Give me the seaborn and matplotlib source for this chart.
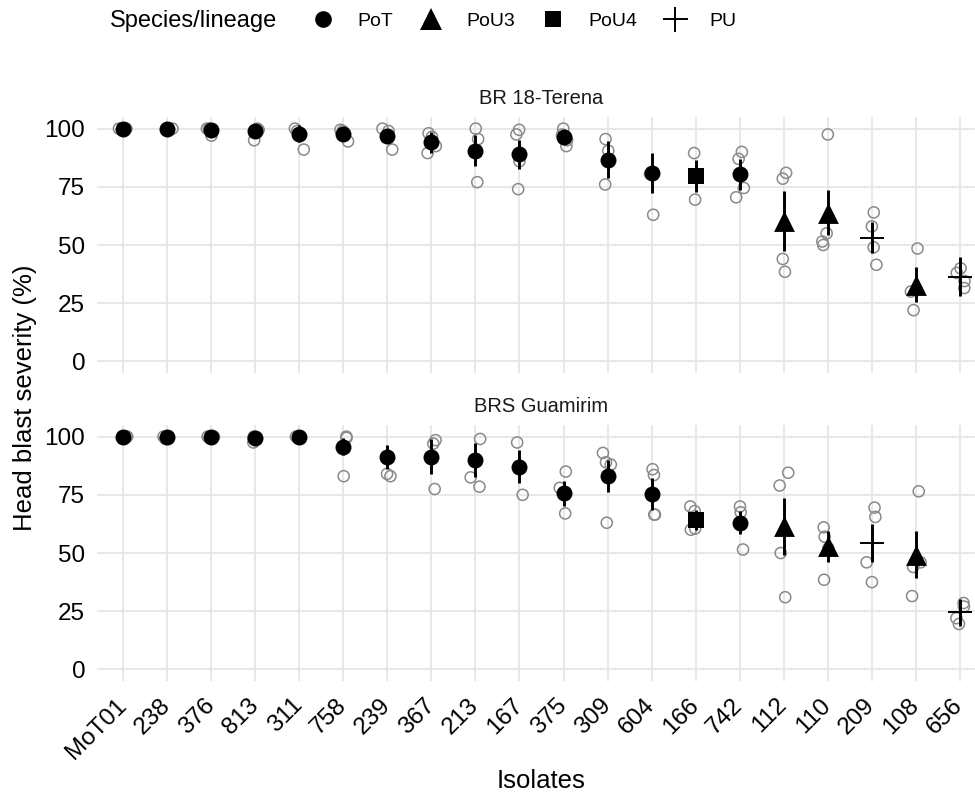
import numpy as np
import pandas as pd
import matplotlib.pyplot as plt
import seaborn as sns
from matplotlib.lines import Line2D

# Isolates in plotting order and their species/lineage
isolates = ["MoT01", "238", "376", "813", "311", "758", "239", "367", "213", "167",
            "375", "309", "604", "166", "742", "112", "110", "209", "108", "656"]
lineage = ["PoT"] * 13 + ["PoU4", "PoT", "PoU3", "PoU3", "PU", "PoU3", "PU"]

# BR 18-Terena: means, error half-widths, replicate values
terena_mean = [100, 100, 99.5, 98.9, 97.9, 97.9, 97.0, 94.1, 90.6, 88.9,
               96.4, 86.7, 81.0, 79.6, 80.3, 60.3, 63.9, 53.1, 32.9, 36.4]
terena_se = [0, 0, 0.8, 1.5, 3.8, 1.3, 2.5, 4.6, 6.8, 6.1,
             1.8, 7.9, 8.7, 6.8, 6.5, 13.0, 9.8, 6.6, 7.5, 8.4]
terena_reps = [[100, 100, 100, 100], [100, 100, 100], [100, 100, 97], [100, 99.5, 95],
               [100, 99, 91], [99.5, 99, 94.5], [100, 99, 91], [98, 96.5, 92.5, 89.5],
               [100, 95.5, 77], [99.5, 97.5, 86, 74], [100, 97.5, 95, 92.5], [95.5, 90.5, 76],
               [81, 80.5, 63], [89.5, 69.5], [90, 87, 74.5, 70.5], [81, 78.5, 44, 38.5],
               [97.5, 55, 51.5, 50], [64, 58, 49, 41.5], [48.5, 30, 22], [40, 38, 34.5, 31.5]]

# BRS Guamirim
guamirim_mean = [100, 100, 100, 99.3, 100, 95.7, 91.4, 91.4, 90.0, 87.1,
                 75.7, 83.1, 75.4, 64.3, 63.1, 61.4, 52.9, 54.3, 49.3, 24.6]
guamirim_se = [0, 0.3, 0, 0.5, 0, 3.5, 5.2, 7.4, 7.4, 7.0,
               5.4, 6.8, 6.8, 4.3, 4.8, 12.2, 6.6, 8.3, 10.2, 5.8]
guamirim_reps = [[100, 100, 100], [100, 99, 100], [100, 100, 100], [100, 99.5, 97.5],
                 [100, 100, 100], [100, 99.5, 83], [84, 83], [98.5, 97, 77.5],
                 [99, 82.5, 78.5], [97.5, 87.5, 75], [85, 78, 67], [93, 89, 88, 63],
                 [86, 83.5, 66.5, 66.5], [70, 68, 60.5, 60], [70, 67.5, 51.5],
                 [84.5, 79, 50, 31], [61, 57, 52, 38.5], [69.5, 65.5, 46, 37.5],
                 [76.5, 46, 44, 31.5], [28.5, 27, 22, 19.5]]

LINEAGES = ["PoT", "PoU3", "PoU4", "PU"]
MARKERS = {"PoT": ("o", 11.5), "PoU3": ("^", 15), "PoU4": ("s", 11.5), "PU": ("+", 17)}

sns.set_theme(style="whitegrid")
plt.rcParams["font.family"] = ["Liberation Sans", "DejaVu Sans"]
plt.rcParams["text.color"] = "black"
np.random.seed(7)  # jitter of replicate points only

fig = plt.figure(figsize=(9.75, 7.95), dpi=100)
ax_top = fig.add_axes([97 / 975, 1 - 373 / 795, 889 / 975, 256 / 795])
ax_bot = fig.add_axes([97 / 975, 1 - 681 / 795, 889 / 975, 256 / 795])


def draw_panel(ax, means, ses, reps, title, show_x):
    df = pd.DataFrame({"isolate": isolates, "lineage": lineage, "mean": means, "se": ses})
    df["pos"] = np.arange(len(isolates))
    rep_df = pd.DataFrame([(iso, v) for iso, vals in zip(isolates, reps) for v in vals],
                          columns=["isolate", "value"])

    sns.stripplot(data=rep_df, x="isolate", y="value", order=isolates, jitter=0.12,
                  size=8, color="#8a8a8a", edgecolor="#8a8a8a", linewidth=1.1,
                  ax=ax, zorder=2)
    for coll in ax.collections:
        coll.set_facecolor("none")
        coll.set_edgecolor("#8a8a8a")

    ax.vlines(df["pos"], df["mean"] - df["se"], df["mean"] + df["se"],
              color="black", linewidth=2.1, zorder=3)

    for lin in LINEAGES:
        sub = df[df["lineage"] == lin]
        m, ms = MARKERS[lin]
        sns.scatterplot(data=sub, x="pos", y="mean", marker=m, s=ms ** 2,
                        color="black", edgecolor="black",
                        linewidth=1.4 if m == "+" else 0,
                        legend=False, ax=ax, zorder=4)

    ax.set_xlim(-0.6, 19.6)
    ax.set_ylim(-5, 105)
    ax.set_yticks([0, 25, 50, 75, 100])
    ax.set_xticks(range(len(isolates)))
    ax.grid(True, color="#e6e6e6", linewidth=1.3)
    ax.xaxis.grid(True)
    ax.set_axisbelow(True)
    for s in ax.spines.values():
        s.set_visible(False)
    ax.set_xlabel("")
    ax.set_ylabel("")
    ax.tick_params(axis="y", length=0, pad=8.5, labelsize=17.5, labelcolor="black")
    if show_x:
        ax.set_xticklabels(isolates, rotation=45, ha="right", va="center",
                           rotation_mode="anchor")
        ax.tick_params(axis="x", length=0, pad=15, labelsize=17.5, labelcolor="black")
    else:
        ax.tick_params(axis="x", length=0, labelbottom=False)
    ax.text(0.5, 1.035, title, transform=ax.transAxes, ha="center", va="bottom",
            fontsize=14.5, color="#1a1a1a")


draw_panel(ax_top, terena_mean, terena_se, terena_reps, "BR 18-Terena", False)
draw_panel(ax_bot, guamirim_mean, guamirim_se, guamirim_reps, "BRS Guamirim", True)

fig.text(25 / 975, 1 - 398 / 795, "Head blast severity (%)", rotation=90,
         ha="center", va="center", fontsize=18.5)
fig.text(541 / 975, 1 - 781 / 795, "Isolates", ha="center", va="center", fontsize=18.5)

# legend on top
fig.text(110 / 975, 1 - 21 / 795, "Species/lineage", ha="left", va="center", fontsize=17)
leg_sizes = {"PoT": 12, "PoU3": 16, "PoU4": 11.5, "PU": 18}
handles = [Line2D([], [], marker=MARKERS[l][0], color="black", linestyle="none",
                  markersize=leg_sizes[l], markeredgewidth=1.4 if l == "PU" else 0)
           for l in LINEAGES]
fig.legend(handles, LINEAGES, loc="center left", bbox_to_anchor=(311 / 975, 1 - 21 / 795),
           ncol=4, frameon=False, fontsize=14, handlelength=1.2, handletextpad=1.2,
           columnspacing=1.35, borderpad=0, borderaxespad=0)

fig.savefig("out.png", dpi=100)
